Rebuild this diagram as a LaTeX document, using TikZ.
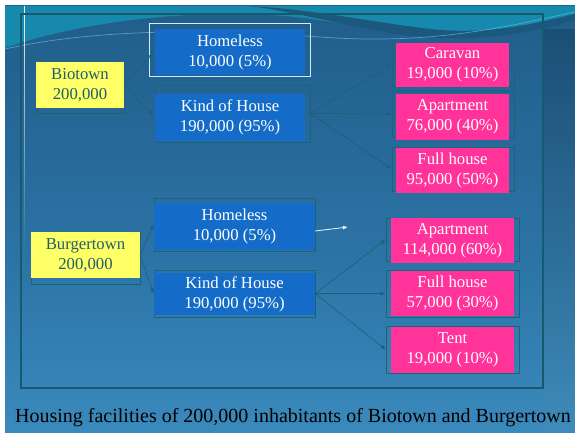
\documentclass[tikz,border=0pt]{standalone}
\usepackage{fontspec}
\setmainfont{Liberation Serif}
\newfontfamily\slidefont{Liberation Serif}
\usetikzlibrary{arrows.meta}
\definecolor{bgtop}{HTML}{1D5580}
\definecolor{bgmid}{HTML}{2C74A6}
\definecolor{bgbot}{HTML}{4DA5D8}
\definecolor{cyanband}{HTML}{1689AC}
\definecolor{darkband}{HTML}{1C577E}
\definecolor{framecol}{HTML}{175A6E}
\definecolor{boxblue}{HTML}{146CC8}
\definecolor{boxpink}{HTML}{FF3399}
\definecolor{boxyellow}{HTML}{FFFF66}
\definecolor{ytext}{HTML}{1E5E6E}
\definecolor{conn}{HTML}{1A6277}
\definecolor{outl}{HTML}{1D6378}
\pgfdeclareverticalshading{slidebg}{100bp}{color(0bp)=(bgbot); color(45bp)=(bgmid); color(85bp)=(bgtop); color(100bp)=(bgtop)}
\begin{document}
\begin{tikzpicture}[x=1pt,y=-1pt,
  txt/.style={font=\slidefont\fontsize{16.7}{20}\selectfont, align=center, inner sep=0pt},
  bluebox/.style={txt, rectangle, fill=boxblue, text=white},
  pinkbox/.style={txt, rectangle, fill=boxpink, text=white},
  yellowbox/.style={txt, rectangle, fill=boxyellow, text=ytext},
  outline/.style={rectangle, draw=outl, line width=0.8pt, inner sep=0pt},
  conn/.style={draw=conn, line width=0.6pt, -{Latex[length=5pt,width=4pt]}},
]
\useasboundingbox (0,0) rectangle (575,433);
\fill[white] (0,0) rectangle (575,433);
% slide background
\shade[shading=slidebg] (5,6) rectangle (575,433);
% right darker strip
\shade[top color=bgtop!80!black, bottom color=bgbot!85!black, opacity=0.6] (543,30) rectangle (575,433);
% top swoosh
\fill[cyanband] (5,6) -- (575,6) -- (575,16) .. controls (520,26) and (480,34) .. (440,34)
   .. controls (380,34) and (330,18) .. (270,15) .. controls (170,10) and (70,25) .. (5,48) -- cycle;
\fill[darkband] (250,6) .. controls (320,10) and (380,24) .. (440,30) .. controls (500,34) and (540,22) .. (575,14)
   -- (575,20) .. controls (530,34) and (480,40) .. (440,38) .. controls (380,36) and (320,16) .. (250,6) -- cycle;
\draw[cyan!60!white, line width=0.7pt, opacity=0.6] (5,49) .. controls (90,30) and (200,28) .. (320,37)
   .. controls (430,45) and (500,28) .. (575,12);
% white fading vertical line
\foreach \i [evaluate=\i as \op using 0.9-\i*0.045] in {0,...,19}
  \draw[white, line width=0.8pt, opacity=\op] (24,{6+\i*12}) -- (24,{18+\i*12});
% frame
\draw[framecol, line width=1.6pt] (21,14) rectangle (543,388);

% ---- Biotown group ----
\node[outline, minimum width=88pt, minimum height=51pt] (bioO) at (80,87.5) {};
\node[yellowbox, minimum width=88pt, minimum height=46pt] (bio) at (80,85) {Biotown\\200,000};
\node[rectangle, draw=white!80!cyan, line width=0.7pt, inner sep=0pt, minimum width=161pt, minimum height=53pt] (homAO) at (229.5,49.5) {};
\node[bluebox, minimum width=150pt, minimum height=46pt] (homA) at (230,52) {Homeless\\10,000 (5\%)};
\node[outline, minimum width=155pt, minimum height=57pt] (kindAO) at (232.5,113.5) {};
\node[bluebox, minimum width=150pt, minimum height=47pt] (kindA) at (230,117.5) {Kind of House\\190,000 (95\%)};

\node[outline, minimum width=122pt, minimum height=43pt] (carO) at (453,64.5) {};
\node[pinkbox, minimum width=113pt, minimum height=44pt] (car) at (452.5,65) {Caravan\\19,000 (10\%)};
\node[outline, minimum width=122pt, minimum height=46pt] (aptAO) at (453,114) {};
\node[pinkbox, minimum width=113pt, minimum height=46pt] (aptA) at (452.5,117) {Apartment\\76,000 (40\%)};
\node[outline, minimum width=122pt, minimum height=44pt] (fullAO) at (453,169) {};
\node[pinkbox, minimum width=113pt, minimum height=45pt] (fullA) at (452.5,170.5) {Full house\\95,000 (50\%)};

\draw[conn, shorten >=2pt] (bio.east) -- (homA.west);
\draw[conn, shorten >=2pt] (bio.east) -- (kindA.west);
\draw[conn] (kindAO.east) -- (carO.west);
\draw[conn] (kindAO.east) -- (aptAO.west);
\draw[conn] (kindAO.east) -- (fullAO.west);

% ---- Burgertown group ----
\node[outline, minimum width=109pt, minimum height=52pt] (burO) at (85.5,258) {};
\node[yellowbox, minimum width=109pt, minimum height=46pt] (bur) at (85.5,255) {Burgertown\\200,000};
\node[outline, minimum width=161pt, minimum height=53pt] (homBO) at (234.5,224.5) {};
\node[bluebox, minimum width=161pt, minimum height=47pt] (homB) at (234.5,226.5) {Homeless\\10,000 (5\%)};
\node[outline, minimum width=161pt, minimum height=47pt] (kindBO) at (234.5,293.5) {};
\node[bluebox, minimum width=161pt, minimum height=42pt] (kindB) at (234.5,294) {Kind of House\\190,000 (95\%)};

\node[outline, minimum width=133pt, minimum height=43pt] (aptBO) at (452.5,239.5) {};
\node[pinkbox, minimum width=123pt, minimum height=45pt] (aptB) at (452.5,240.5) {Apartment\\114,000 (60\%)};
\node[outline, minimum width=133pt, minimum height=47pt] (fullBO) at (452.5,293.5) {};
\node[pinkbox, minimum width=123pt, minimum height=45pt] (fullB) at (452.5,293.5) {Full house\\57,000 (30\%)};
\node[outline, minimum width=133pt, minimum height=47pt] (tentO) at (452.5,349.5) {};
\node[pinkbox, minimum width=123pt, minimum height=46pt] (tent) at (452.5,350) {Tent\\19,000 (10\%)};

\draw[conn] (bur.east) -- (homBO.west);
\draw[conn] (bur.east) -- (kindBO.west);
\draw[conn] (kindBO.east) -- (aptBO.west);
\draw[conn] (kindBO.east) -- (fullBO.west);
\draw[conn] (kindBO.east) -- (tentO.west);

\coordinate (wend) at (348,227);
\draw[white!90!cyan, line width=0.8pt, -{Latex[length=5pt,width=4pt]}] ([yshift=-4.5pt]homB.east) -- (wend);

% caption
\node[font=\slidefont\fontsize{20}{24}\selectfont, anchor=base, inner sep=0pt] (cap) at (293,422)
  {Housing facilities of 200,000 inhabitants of Biotown and Burgertown};
\end{tikzpicture}
\end{document}
